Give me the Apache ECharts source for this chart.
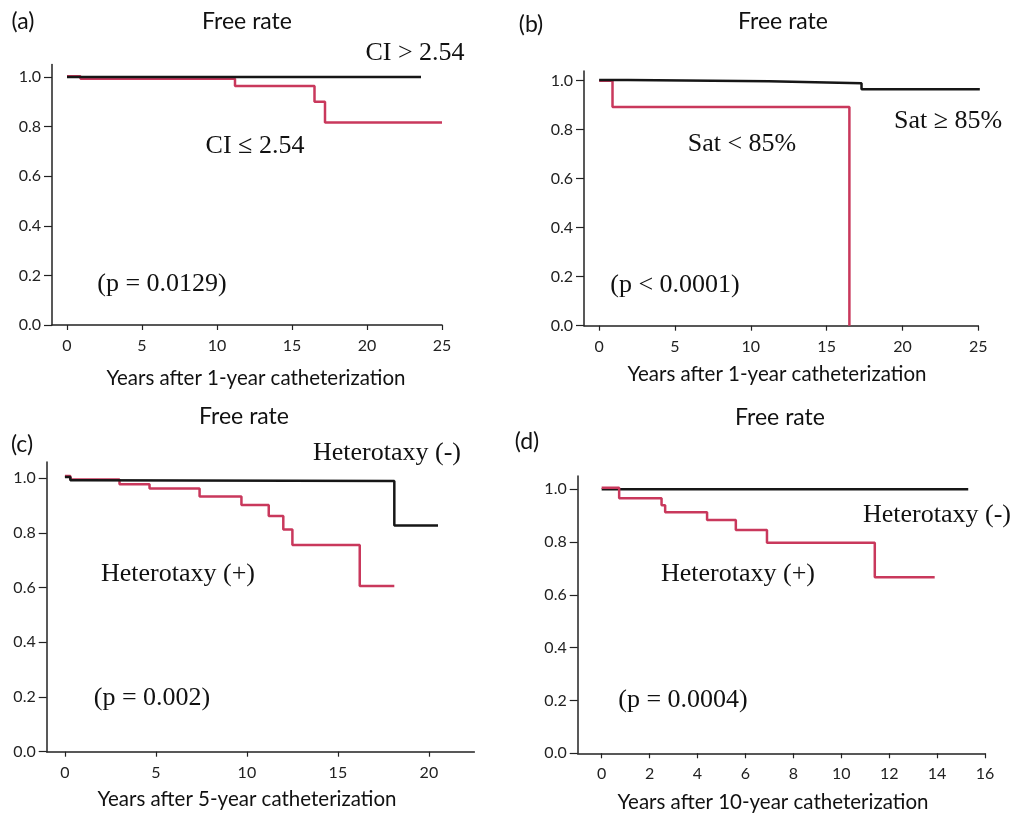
<!DOCTYPE html>
<html>
<head>
<meta charset="utf-8">
<script src="https://cdn.jsdelivr.net/npm/echarts@6/dist/echarts.min.js"></script>
<style>
  html, body { margin: 0; padding: 0; background: #fff; }
  #chart { width: 1015px; height: 814px; }
</style>
</head>
<body>
<div id="chart"></div>
<script>
// 刻度
const yTicks = [0, 0.2, 0.4, 0.6, 0.8, 1.0];
const xTicksA = [0, 5, 10, 15, 20, 25];
const xTicksB = [0, 5, 10, 15, 20, 25];
const xTicksC = [0, 5, 10, 15, 20];
const xTicksD = [0, 2, 4, 6, 8, 10, 12, 14, 16];

// (a) CI
const aHigh = [[0, 1.0], [23.6, 1.0]];
const aLow = [[0, 1.003], [0.9, 0.993], [11.2, 0.964], [16.5, 0.90], [17.2, 0.817], [25, 0.817]];
// (b) Sat
const bHigh = [[0, 1.003], [1.9, 0.998], [11.2, 0.99], [17.3, 0.965], [25.1, 0.965]];
const bLow = [[0, 1.0], [0.88, 0.893], [16.5, 0]];
// (c) Heterotaxy, 5-year
const cNeg = [[0, 1.005], [0.3, 0.993], [1, 0.99], [18.1, 0.827], [20.5, 0.827]];
const cPos = [[0, 1.008], [0.3, 0.996], [3.0, 0.978], [4.65, 0.963], [7.4, 0.933], [9.7, 0.902],
              [11.2, 0.862], [12.0, 0.813], [12.5, 0.756], [16.2, 0.606], [18.1, 0.606]];
// (d) Heterotaxy, 10-year
const dNeg = [[0, 1.0], [15.3, 1.0]];
const dPos = [[0, 1.006], [0.73, 0.966], [2.5, 0.94], [2.65, 0.913], [4.4, 0.884], [5.6, 0.846],
              [6.9, 0.798], [11.4, 0.667], [13.9, 0.667]];

const RED = '#c9385c';
const BLACK = '#161616';
const SANS = 'Lato, "Open Sans", sans-serif';
const SERIF = '"Liberation Serif", "DejaVu Serif", serif';

const chart = echarts.init(document.getElementById('chart'));

function xAxis(gridIndex, min, max, ticks) {
    return {
        type: 'value', gridIndex: gridIndex, min: min, max: max,
        splitLine: { show: false },
        axisLine: { onZero: false, lineStyle: { color: '#222', width: 1.5 } },
        axisTick: { customValues: ticks, length: 5, lineStyle: { color: '#222', width: 1.2 } },
        axisLabel: { customValues: ticks, margin: 13, color: '#222', fontSize: 16, fontFamily: SANS }
    };
}
function yAxis(gridIndex, max) {
    return {
        type: 'value', gridIndex: gridIndex, min: 0, max: max,
        splitLine: { show: false },
        axisLine: { show: true, onZero: false, lineStyle: { color: '#222', width: 1.5 } },
        axisTick: { show: true, customValues: yTicks, length: 8, lineStyle: { color: '#222', width: 1.2 } },
        axisLabel: { customValues: yTicks, margin: 11, color: '#222', fontSize: 16, fontFamily: SANS,
                     formatter: v => v.toFixed(1) }
    };
}
function km(idx, data, color) {
    return {
        type: 'line', xAxisIndex: idx, yAxisIndex: idx, data: data, step: 'end',
        symbol: 'none', lineStyle: { color: color, width: 2.5 }, silent: true
    };
}
function txt(x, y, text, font, size) {
    return {
        type: 'text', x: x, y: y, silent: true,
        style: { text: text, fontFamily: font, fontSize: size, fill: '#111',
                 textAlign: 'center', textVerticalAlign: 'middle' }
    };
}

const option = {
    animation: false,
    backgroundColor: '#fff',
    grid: [
        { left: 52, top: 64.6, width: 390, height: 260.4 },
        { left: 584, top: 70.9, width: 394.3, height: 254.8 },
        { left: 46.7, top: 461.9, width: 427.7, height: 289.8 },
        { left: 577.7, top: 476.1, width: 407.3, height: 277.2 }
    ],
    xAxis: [
        xAxis(0, -1, 25, xTicksA),
        xAxis(1, -1, 25, xTicksB),
        xAxis(2, -1, 22.5, xTicksC),
        xAxis(3, -1, 16, xTicksD)
    ],
    yAxis: [yAxis(0, 1.05), yAxis(1, 1.04), yAxis(2, 1.06), yAxis(3, 1.05)],
    series: [
        km(0, aLow, RED), km(0, aHigh, BLACK),
        km(1, bLow, RED), km(1, bHigh, BLACK),
        km(2, cPos, RED), km(2, cNeg, BLACK),
        km(3, dNeg, BLACK), km(3, dPos, RED)
    ],
    graphic: [
        // 面板标记
        txt(23, 22, '(a)', SANS, 23),
        txt(531, 25, '(b)', SANS, 23),
        txt(22, 445, '(c)', SANS, 23),
        txt(527, 442, '(d)', SANS, 23),
        // 标题
        txt(247, 22, 'Free rate', SANS, 23),
        txt(783, 22, 'Free rate', SANS, 23),
        txt(244, 417, 'Free rate', SANS, 23),
        txt(780, 418, 'Free rate', SANS, 23),
        // 坐标轴名称
        txt(256, 378, 'Years after 1-year catheterization', SANS, 20.5),
        txt(777, 374, 'Years after 1-year catheterization', SANS, 20.5),
        txt(247, 799, 'Years after 5-year catheterization', SANS, 20.5),
        txt(773, 802, 'Years after 10-year catheterization', SANS, 20.5),
        // 注释
        txt(415, 53, 'CI > 2.54', SERIF, 26),
        txt(255, 146, 'CI \u2264 2.54', SERIF, 26),
        txt(162, 284, '(p = 0.0129)', SERIF, 26),
        txt(742, 144, 'Sat < 85%', SERIF, 26),
        txt(948, 121, 'Sat \u2265 85%', SERIF, 26),
        txt(675, 285, '(p < 0.0001)', SERIF, 26),
        txt(387, 453, 'Heterotaxy (-)', SERIF, 26),
        txt(178, 574, 'Heterotaxy (+)', SERIF, 26),
        txt(152, 698, '(p = 0.002)', SERIF, 26),
        txt(937, 515, 'Heterotaxy (-)', SERIF, 26),
        txt(738, 574, 'Heterotaxy (+)', SERIF, 26),
        txt(683, 700, '(p = 0.0004)', SERIF, 26)
    ]
};
chart.setOption(option);
</script>
</body>
</html>
